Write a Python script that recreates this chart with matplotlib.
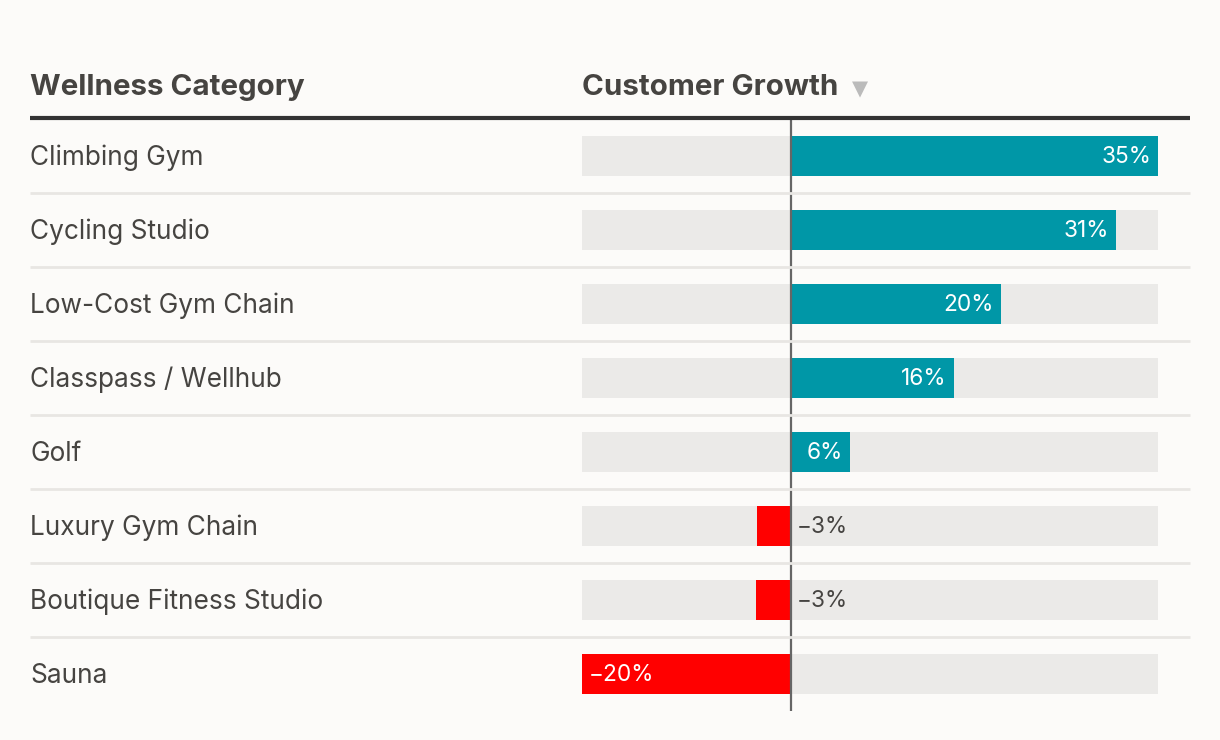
import matplotlib.pyplot as plt
from matplotlib.lines import Line2D
from matplotlib.transforms import blended_transform_factory

plt.rcParams['font.family'] = ['Inter', 'DejaVu Sans']

categories = [
    'Climbing Gym', 'Cycling Studio', 'Low-Cost Gym Chain', 'Classpass / Wellhub',
    'Golf', 'Luxury Gym Chain', 'Boutique Fitness Studio', 'Sauna',
]
growth = [35, 31, 20, 15.5, 5.6, -3.3, -3.4, -20]
x_min, x_max = -20, 35

BG = '#fcfbf9'
TEAL = '#0097a7'
RED = '#ff0000'
TRACK = '#ebeae8'
TEXT = '#464441'

W, H = 1220, 740
fig = plt.figure(figsize=(W / 100, H / 100), dpi=100, facecolor=BG)


def fx(px):
    return px / W


def fy(py):
    return 1 - py / H


# bar area: 582..1158 px wide, rows of 74 px from y=119
ax = fig.add_axes([fx(582), fy(711), fx(1158) - fx(582), (711 - 119) / H])
ax.set_facecolor('none')
ax.set_xlim(x_min, x_max)
ax.set_ylim(len(categories) - 0.5, -0.5)
ax.axis('off')

rows = list(range(len(categories)))
ax.barh(rows, [x_max - x_min] * len(rows), left=x_min, height=40 / 74, color=TRACK, zorder=1)
colors = [TEAL if v >= 0 else RED for v in growth]
ax.barh(rows, growth, height=40 / 74, color=colors, zorder=2)
ax.axvline(0, color='#666666', lw=1.6, zorder=3)

trans = blended_transform_factory(fig.transFigure, ax.transData)

# row separators
for i in range(len(rows) - 1):
    ax.add_line(Line2D([fx(30), fx(1190)], [i + 0.5, i + 0.5], transform=trans,
                       color='#e8e6e3', lw=2, zorder=4, clip_on=False,
                       solid_capstyle='butt'))

for i, (name, v) in enumerate(zip(categories, growth)):
    ax.annotate(name, (fx(30), i), xycoords=trans, xytext=(0, -2),
                textcoords='offset pixels', ha='left', va='center',
                fontsize=18.9, color=TEXT, annotation_clip=False)
    label = f'{round(v)}%'.replace('-', '\u2212')
    if v >= 0:
        ax.annotate(label, (v, i), xytext=(-7, -1), textcoords='offset pixels',
                    ha='right', va='center', fontsize=16.3, color='white', zorder=5)
    elif v > -10:
        ax.annotate(label, (0, i), xytext=(5, -1), textcoords='offset pixels',
                    ha='left', va='center', fontsize=16.3, color=TEXT, zorder=5)
    else:
        ax.annotate(label, (v, i), xytext=(7, -1), textcoords='offset pixels',
                    ha='left', va='center', fontsize=16.3, color='white', zorder=5)

# header
fig.text(fx(30), fy(95), 'Wellness Category', ha='left', va='baseline',
         fontsize=21.3, fontweight='bold', color=TEXT)
fig.text(fx(582), fy(95), 'Customer Growth', ha='left', va='baseline',
         fontsize=21.3, fontweight='bold', color=TEXT)
fig.text(fx(852), fy(95), '\u25bc', ha='left', va='baseline',
         fontsize=15, color='#bbbbbb', family=['DejaVu Sans'])
fig.add_artist(Line2D([fx(30), fx(1190)], [fy(118), fy(118)], lw=3, color='#333333',
                      solid_capstyle='butt'))

fig.savefig('out.png', dpi=100, facecolor=BG)
